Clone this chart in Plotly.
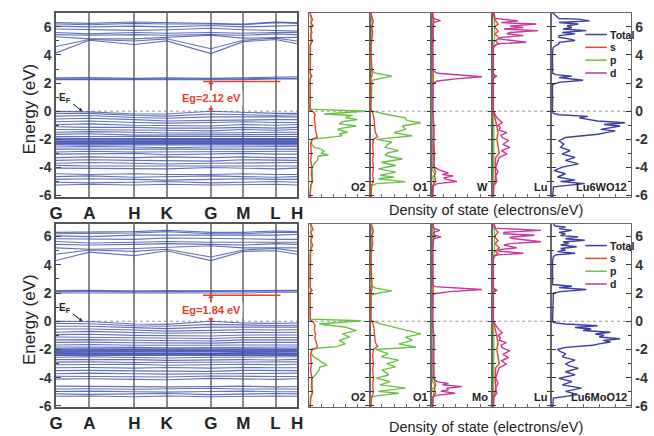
import plotly.graph_objects as go

W, H = 654, 436
FONT = "Liberation Sans, Arial, sans-serif"

# ---------------- band structure data ----------------
KPATH = [0, 34, 80, 113, 158, 191, 224, 246]
KLABELS = ["G", "A", "H", "K", "G", "M", "L", "H"]

CB_TOP = [
    [4.15, 5.05, 4.75, 5.0, 4.1, 4.95, 5.1, 4.8],
    [4.6, 5.1, 5.0, 5.15, 4.45, 5.05, 5.2, 5.0],
    [5.3, 5.15, 5.15, 5.25, 5.4, 5.2, 5.25, 5.25],
    [5.45, 5.4, 5.45, 5.4, 5.45, 5.4, 5.5, 5.45],
    [5.6, 5.5, 5.6, 5.55, 5.6, 5.55, 5.6, 5.6],
    [5.85, 5.8, 5.75, 5.8, 5.9, 5.8, 5.75, 5.7],
    [6.05, 6.0, 6.05, 6.0, 6.1, 6.0, 6.05, 6.1],
    [6.2, 6.15, 6.25, 6.2, 6.2, 6.15, 6.3, 6.25],
    [6.3, 6.25, 6.35, 6.3, 6.25, 6.2, 6.35, 6.3],
]
FLAT_TOP = [
    [2.3, 2.3, 2.28, 2.3, 2.28, 2.3, 2.35, 2.35],
    [2.38, 2.4, 2.35, 2.38, 2.35, 2.38, 2.42, 2.45],
    [2.25, 2.25, 2.22, 2.25, 2.2, 2.24, 2.3, 2.3],
]
VB_TOP = [
    [0.0, -0.05, -0.2, -0.2, 0.0, -0.1, -0.15, -0.15],
    [-0.15, -0.15, -0.3, -0.35, -0.2, -0.25, -0.3, -0.25],
    [-0.35, -0.3, -0.45, -0.5, -0.4, -0.4, -0.45, -0.4],
    [-0.55, -0.5, -0.6, -0.7, -0.65, -0.6, -0.6, -0.6],
    [-0.75, -0.7, -0.8, -0.85, -0.8, -0.75, -0.8, -0.8],
    [-0.95, -0.9, -1.0, -1.0, -1.05, -0.95, -1.0, -0.95],
    [-1.1, -1.15, -1.15, -1.2, -1.2, -1.15, -1.2, -1.15],
    [-1.3, -1.3, -1.35, -1.35, -1.4, -1.3, -1.35, -1.3],
    [-1.5, -1.45, -1.5, -1.55, -1.55, -1.5, -1.5, -1.5],
    [-1.65, -1.6, -1.7, -1.7, -1.7, -1.65, -1.7, -1.65],
    [-1.8, -1.8, -1.85, -1.85, -1.85, -1.8, -1.85, -1.8],
    [-1.9, -1.95, -1.95, -1.95, -1.95, -1.95, -1.95, -1.95],
    [-1.98, -2.0, -2.0, -2.0, -2.0, -1.98, -2.0, -2.0],
    [-2.0, -2.05, -2.05, -2.05, -2.05, -2.0, -2.05, -2.05],
    [-2.1, -2.1, -2.15, -2.1, -2.1, -2.1, -2.1, -2.1],
    [-2.15, -2.15, -2.18, -2.17, -2.17, -2.15, -2.15, -2.15],
    [-2.2, -2.2, -2.2, -2.2, -2.25, -2.2, -2.2, -2.2],
    [-2.25, -2.25, -2.27, -2.25, -2.27, -2.25, -2.25, -2.25],
    [-2.3, -2.3, -2.3, -2.3, -2.3, -2.3, -2.3, -2.3],
    [-2.35, -2.35, -2.35, -2.37, -2.35, -2.35, -2.37, -2.35],
    [-2.4, -2.4, -2.45, -2.4, -2.4, -2.4, -2.4, -2.4],
    [-2.55, -2.5, -2.55, -2.6, -2.55, -2.55, -2.55, -2.5],
    [-2.7, -2.7, -2.7, -2.75, -2.7, -2.7, -2.75, -2.7],
    [-2.9, -2.85, -2.9, -2.9, -2.85, -2.9, -2.9, -2.85],
    [-3.05, -3.05, -3.0, -3.1, -3.05, -3.0, -3.05, -3.05],
    [-3.3, -3.25, -3.3, -3.25, -3.3, -3.25, -3.3, -3.3],
    [-3.5, -3.45, -3.5, -3.5, -3.55, -3.45, -3.5, -3.5],
    [-3.7, -3.65, -3.7, -3.75, -3.7, -3.7, -3.7, -3.65],
    [-3.85, -3.9, -3.9, -3.9, -3.85, -3.9, -3.9, -3.9],
    [-4.05, -4.05, -4.1, -4.1, -4.0, -4.05, -4.1, -4.05],
    [-4.45, -4.5, -4.45, -4.5, -4.5, -4.45, -4.5, -4.5],
    [-4.65, -4.6, -4.7, -4.65, -4.6, -4.65, -4.7, -4.65],
    [-4.85, -4.8, -4.85, -4.9, -4.85, -4.8, -4.85, -4.85],
    [-5.05, -5.1, -5.05, -5.0, -5.1, -5.05, -5.0, -5.05],
    [-5.25, -5.2, -5.25, -5.2, -5.25, -5.2, -5.2, -5.25],
]

CB_BOT = [
    [4.3, 4.9, 4.65, 5.0, 4.3, 4.95, 5.0, 4.75],
    [4.75, 5.05, 4.95, 5.1, 4.55, 5.05, 5.15, 4.95],
    [5.2, 5.1, 5.15, 5.25, 5.35, 5.2, 5.2, 5.2],
    [5.45, 5.4, 5.45, 5.5, 5.45, 5.4, 5.5, 5.45],
    [5.65, 5.55, 5.6, 5.65, 5.6, 5.6, 5.65, 5.6],
    [5.85, 5.85, 5.8, 5.9, 5.9, 5.85, 5.8, 5.8],
    [6.05, 6.0, 6.1, 6.1, 6.1, 6.05, 6.1, 6.15],
    [6.2, 6.2, 6.25, 6.35, 6.2, 6.2, 6.3, 6.3],
    [6.3, 6.3, 6.35, 6.45, 6.3, 6.3, 6.4, 6.35],
]
FLAT_BOT = [
    [2.0, 2.0, 1.98, 2.0, 1.98, 2.0, 2.05, 2.05],
    [2.1, 2.12, 2.08, 2.1, 2.08, 2.1, 2.15, 2.15],
    [2.18, 2.2, 2.15, 2.18, 2.15, 2.18, 2.22, 2.2],
]
VB_BOT = [
    [0.0, -0.02, -0.2, -0.22, 0.0, -0.12, -0.15, -0.12],
    [-0.15, -0.18, -0.32, -0.35, -0.22, -0.28, -0.3, -0.28],
    [-0.35, -0.35, -0.45, -0.52, -0.42, -0.42, -0.45, -0.42],
    [-0.55, -0.55, -0.62, -0.7, -0.65, -0.6, -0.62, -0.6],
    [-0.78, -0.72, -0.8, -0.85, -0.82, -0.78, -0.8, -0.78],
    [-0.95, -0.92, -1.0, -1.02, -1.05, -0.98, -1.0, -0.98],
    [-1.12, -1.15, -1.18, -1.2, -1.22, -1.15, -1.18, -1.15],
    [-1.32, -1.3, -1.35, -1.38, -1.4, -1.32, -1.35, -1.32],
    [-1.5, -1.48, -1.52, -1.55, -1.55, -1.5, -1.52, -1.5],
    [-1.68, -1.65, -1.7, -1.72, -1.7, -1.68, -1.7, -1.68],
    [-1.82, -1.82, -1.85, -1.88, -1.85, -1.82, -1.85, -1.82],
    [-1.95, -1.95, -1.97, -1.98, -1.97, -1.95, -1.97, -1.95],
    [-1.99, -2.0, -2.02, -2.02, -2.02, -1.99, -2.0, -2.0],
    [-2.05, -2.05, -2.08, -2.08, -2.07, -2.05, -2.07, -2.05],
    [-2.1, -2.1, -2.12, -2.12, -2.1, -2.1, -2.1, -2.1],
    [-2.15, -2.15, -2.17, -2.15, -2.15, -2.15, -2.15, -2.15],
    [-2.22, -2.25, -2.25, -2.25, -2.27, -2.22, -2.25, -2.25],
    [-2.28, -2.28, -2.3, -2.3, -2.3, -2.28, -2.3, -2.28],
    [-2.32, -2.33, -2.33, -2.33, -2.33, -2.32, -2.33, -2.33],
    [-2.38, -2.38, -2.4, -2.4, -2.38, -2.38, -2.4, -2.38],
    [-2.42, -2.42, -2.45, -2.43, -2.42, -2.42, -2.42, -2.42],
    [-2.55, -2.52, -2.57, -2.6, -2.55, -2.55, -2.57, -2.52],
    [-2.72, -2.7, -2.72, -2.77, -2.72, -2.72, -2.75, -2.7],
    [-2.9, -2.88, -2.92, -2.92, -2.88, -2.9, -2.92, -2.88],
    [-3.08, -3.05, -3.05, -3.12, -3.08, -3.05, -3.08, -3.05],
    [-3.3, -3.28, -3.32, -3.28, -3.32, -3.28, -3.3, -3.3],
    [-3.5, -3.48, -3.52, -3.52, -3.55, -3.48, -3.52, -3.5],
    [-3.72, -3.68, -3.72, -3.75, -3.72, -3.7, -3.72, -3.68],
    [-3.9, -3.92, -3.92, -3.95, -3.88, -3.92, -3.92, -3.92],
    [-4.1, -4.08, -4.12, -4.15, -4.05, -4.1, -4.12, -4.08],
    [-4.6, -4.62, -4.6, -4.65, -4.62, -4.6, -4.65, -4.62],
    [-4.8, -4.78, -4.82, -4.8, -4.75, -4.8, -4.82, -4.8],
    [-4.98, -4.95, -5.0, -5.02, -4.98, -4.95, -5.0, -5.0],
    [-5.15, -5.18, -5.15, -5.12, -5.2, -5.15, -5.12, -5.15],
    [-5.32, -5.3, -5.35, -5.3, -5.35, -5.3, -5.3, -5.32],
]

EG_TOP, EG_BOT = 2.12, 1.84

# ---------------- DOS data: (energy eV, DOS relative) ----------------
O2_S_TOP = [(7, .02), (6.5, .06), (6.3, .03), (6.1, .07), (5.9, .03), (5.6, .05), (5.3, .03), (5.0, .06), (4.7, .02), (2.7, .02), (2.5, .05), (2.3, .02), (0.1, .02), (0.0, .06), (-0.2, .1), (-0.5, .09), (-0.8, .1), (-1.1, .1), (-1.4, .11), (-1.7, .13), (-1.85, .14), (-2.0, .05), (-2.3, .03), (-3.0, .04), (-3.5, .03), (-4.0, .05), (-4.5, .04), (-5.0, .06), (-5.3, .03), (-6.2, .02)]
O2_P_TOP = [(7, .02), (6.4, .04), (5.0, .03), (0.15, .02), (0.0, .94), (-0.1, .55), (-0.2, .25), (-0.3, .72), (-0.45, .6), (-0.6, .8), (-0.75, .55), (-0.9, .5), (-1.05, .78), (-1.2, .55), (-1.3, .47), (-1.5, .64), (-1.6, .5), (-1.75, .55), (-1.9, .3), (-2.0, .05), (-2.3, .04), (-2.55, .08), (-2.7, .2), (-2.85, .25), (-3.0, .2), (-3.1, .32), (-3.2, .15), (-3.5, .14), (-3.75, .08), (-4.1, .05), (-4.5, .06), (-5.0, .05), (-5.3, .03), (-6.2, .02)]
O1_S_TOP = [(7, .02), (6.4, .06), (6.0, .03), (5.6, .05), (5.0, .03), (4.5, .02), (2.6, .04), (2.3, .02), (0.1, .02), (-0.1, .05), (-0.5, .07), (-1.0, .08), (-1.5, .09), (-1.8, .13), (-2.0, .06), (-2.5, .05), (-3.0, .06), (-3.5, .05), (-4.0, .06), (-4.5, .05), (-5.0, .06), (-5.3, .03), (-6.2, .02)]
O1_P_TOP = [(7, .02), (6.3, .04), (5.0, .03), (2.9, .02), (2.7, .1), (2.5, .36), (2.35, .2), (2.2, .04), (0.1, .02), (0.0, .05), (-0.25, .3), (-0.47, .58), (-0.65, .6), (-0.82, .83), (-1.05, .53), (-1.29, .58), (-1.52, .39), (-1.75, .69), (-2.0, .11), (-2.2, .36), (-2.4, .28), (-2.57, .25), (-2.8, .47), (-2.95, .3), (-3.15, .25), (-3.4, .53), (-3.63, .19), (-3.86, .42), (-4.1, .14), (-4.33, .42), (-4.56, .17), (-4.68, .39), (-4.8, .14), (-5.03, .58), (-5.15, .11), (-5.3, .03), (-6.2, .02)]
M_S_TOP = [(7, .02), (6.4, .04), (5, .02), (2.5, .03), (0, .02), (-1, .04), (-2, .04), (-3, .05), (-4, .04), (-4.3, .07), (-4.6, .05), (-5.0, .07), (-5.3, .02), (-6.2, .02)]
M_P_TOP = [(7, .01), (6.4, .02), (0, .01), (-4.2, .02), (-4.5, .06), (-4.7, .02), (-5, .04), (-6.2, .01)]
M_D_TOP = [(7, .02), (6.6, .03), (6.45, .15), (6.3, .03), (5.5, .02), (5.0, .04), (4.8, .02), (2.9, .02), (2.7, .1), (2.45, .83), (2.3, .4), (2.15, .1), (2.0, .03), (0.1, .02), (-0.5, .03), (-1.5, .04), (-2.5, .03), (-3.5, .04), (-4.0, .05), (-4.2, .15), (-4.4, .28), (-4.5, .18), (-4.6, .36), (-4.75, .2), (-4.85, .25), (-5.0, .42), (-5.15, .1), (-5.3, .03), (-6.2, .02)]
LU_S_TOP = [(7, .02), (6.5, .05), (6.2, .1), (6.0, .04), (5.7, .1), (5.5, .05), (5.2, .12), (5.0, .06), (4.8, .1), (4.6, .02), (2.6, .02), (2.5, .08), (2.35, .02), (0, .02), (-0.5, .05), (-1.0, .07), (-1.5, .1), (-2.0, .08), (-2.5, .1), (-3.0, .12), (-3.3, .06), (-4.0, .05), (-4.5, .06), (-5.0, .05), (-5.3, .02), (-6.2, .02)]
LU_P_TOP = [(7, .02), (6.3, .04), (5.0, .04), (4.6, .02), (0, .02), (-2, .03), (-6.2, .02)]
LU_D_TOP = [(7, .03), (6.6, .05), (6.43, .44), (6.3, .15), (6.2, .75), (6.05, .3), (5.96, .53), (5.85, .2), (5.73, .78), (5.6, .3), (5.5, .25), (5.38, .53), (5.25, .15), (5.15, .11), (4.91, .58), (4.8, .1), (4.72, .06), (4.5, .02), (2.7, .02), (2.5, .05), (2.3, .02), (0.0, .02), (-0.2, .05), (-0.47, .08), (-0.82, .17), (-1.0, .1), (-1.17, .14), (-1.35, .12), (-1.52, .25), (-1.7, .15), (-1.87, .17), (-2.1, .28), (-2.35, .18), (-2.57, .3), (-2.8, .16), (-3.04, .25), (-3.28, .12), (-3.5, .1), (-3.75, .08), (-4.0, .06), (-4.3, .1), (-4.6, .06), (-5.0, .08), (-5.3, .03), (-6.2, .02)]
TOT_TOP = [(7, .02), (6.6, .1), (6.55, .34), (6.43, .48), (6.31, .1), (6.2, .34), (6.08, .2), (5.96, .26), (5.85, .15), (5.73, .44), (5.6, .14), (5.5, .3), (5.38, .1), (5.26, .1), (5.15, .22), (5.03, .3), (4.9, .1), (4.79, .1), (4.56, .03), (4.3, .02), (2.7, .02), (2.6, .06), (2.5, .26), (2.4, .1), (2.2, .4), (2.05, .1), (1.9, .02), (0.0, .02), (-0.15, .03), (-0.25, .1), (-0.37, .46), (-0.47, .35), (-0.7, .58), (-0.82, .92), (-0.94, .66), (-1.05, .86), (-1.29, .62), (-1.4, .8), (-1.64, .58), (-1.87, .18), (-2.1, .1), (-2.34, .16), (-2.57, .12), (-2.8, .24), (-3.04, .14), (-3.28, .3), (-3.5, .18), (-3.75, .34), (-3.98, .14), (-4.22, .04), (-4.45, .18), (-4.68, .08), (-4.9, .3), (-5.0, .12), (-5.15, .42), (-5.38, .03), (-6.2, .02)]

O2_S_BOT = [(7, .02), (6.5, .07), (6.3, .03), (6.0, .06), (5.7, .03), (5.4, .06), (5.0, .03), (4.7, .02), (2.4, .02), (2.2, .05), (2.0, .02), (0.1, .02), (0.0, .06), (-0.3, .1), (-0.6, .09), (-0.9, .11), (-1.2, .1), (-1.5, .12), (-1.75, .14), (-1.9, .13), (-2.0, .05), (-2.4, .03), (-3.0, .04), (-3.5, .03), (-4.0, .05), (-4.6, .04), (-5.1, .06), (-5.4, .03), (-6.2, .02)]
O2_P_BOT = [(7, .02), (6.4, .04), (5.0, .03), (0.15, .02), (0.03, .86), (-0.1, .5), (-0.2, .17), (-0.43, .61), (-0.66, .78), (-0.9, .55), (-1.13, .67), (-1.36, .5), (-1.6, .6), (-1.8, .45), (-1.95, .05), (-2.3, .04), (-2.53, .08), (-2.7, .15), (-2.88, .2), (-3.1, .3), (-3.25, .18), (-3.45, .17), (-3.8, .1), (-4.1, .05), (-4.6, .06), (-5.1, .05), (-5.4, .03), (-6.2, .02)]
O1_S_BOT = [(7, .02), (6.4, .06), (6.0, .03), (5.6, .05), (5.0, .03), (4.5, .02), (2.3, .04), (2.0, .02), (0.1, .02), (-0.1, .05), (-0.5, .07), (-1.0, .08), (-1.5, .09), (-1.8, .13), (-2.0, .06), (-2.5, .05), (-3.0, .06), (-3.5, .05), (-4.0, .06), (-4.6, .05), (-5.1, .06), (-5.4, .03), (-6.2, .02)]
O1_P_BOT = [(7, .02), (6.3, .04), (5.0, .03), (2.5, .02), (2.35, .1), (2.15, .36), (2.0, .15), (1.85, .03), (0.1, .02), (0.0, .05), (-0.2, .19), (-0.55, .53), (-0.9, .83), (-1.13, .58), (-1.36, .69), (-1.6, .47), (-1.83, .75), (-2.0, .1), (-2.3, .3), (-2.53, .19), (-2.76, .47), (-3.0, .28), (-3.23, .42), (-3.45, .2), (-3.8, .31), (-4.04, .11), (-4.28, .33), (-4.51, .17), (-4.74, .58), (-4.97, .14), (-5.1, .47), (-5.32, .06), (-5.45, .02), (-6.2, .02)]
M_S_BOT = [(7, .02), (6.4, .05), (6.0, .04), (5, .02), (2.2, .03), (0, .02), (-1, .04), (-2, .04), (-3, .05), (-4, .04), (-4.5, .07), (-4.8, .05), (-5.1, .07), (-5.4, .02), (-6.2, .02)]
M_P_BOT = [(7, .01), (6.4, .02), (0, .01), (-4.3, .02), (-4.6, .06), (-4.8, .02), (-5.1, .04), (-6.2, .01)]
M_D_BOT = [(7, .02), (6.6, .03), (6.44, .14), (6.3, .04), (6.1, .05), (5.98, .16), (5.85, .04), (5.5, .02), (2.6, .02), (2.45, .06), (2.25, .83), (2.1, .3), (1.95, .05), (1.85, .02), (0.1, .02), (-0.5, .03), (-1.5, .04), (-2.5, .03), (-3.5, .04), (-4.1, .04), (-4.3, .1), (-4.4, .28), (-4.5, .18), (-4.63, .5), (-4.75, .25), (-4.86, .28), (-4.95, .15), (-5.1, .39), (-5.25, .08), (-5.35, .03), (-6.2, .02)]
LU_S_BOT = [(7, .02), (6.5, .06), (6.3, .1), (6.0, .04), (5.7, .1), (5.5, .05), (5.2, .12), (4.95, .06), (4.8, .1), (4.6, .02), (2.35, .02), (2.2, .08), (2.05, .02), (0, .02), (-0.5, .05), (-1.0, .07), (-1.5, .1), (-2.0, .08), (-2.5, .1), (-3.0, .12), (-3.3, .06), (-4.0, .05), (-4.6, .06), (-5.1, .05), (-5.4, .02), (-6.2, .02)]
LU_P_BOT = [(7, .02), (6.3, .04), (5.0, .04), (4.6, .02), (0, .02), (-2, .03), (-6.2, .02)]
LU_D_BOT = [(7, .03), (6.6, .05), (6.44, .83), (6.3, .2), (6.2, .2), (6.09, .72), (5.95, .3), (5.86, .35), (5.63, .83), (5.5, .3), (5.4, .2), (5.2, .42), (5.08, .12), (4.98, .1), (4.82, .53), (4.7, .1), (4.62, .04), (4.4, .02), (2.4, .02), (2.2, .05), (2.0, .02), (0.0, .02), (-0.2, .05), (-0.47, .09), (-0.82, .17), (-1.0, .1), (-1.17, .14), (-1.35, .12), (-1.52, .24), (-1.7, .15), (-1.87, .17), (-2.1, .3), (-2.35, .18), (-2.57, .28), (-2.8, .16), (-3.04, .24), (-3.28, .12), (-3.5, .1), (-3.75, .08), (-4.0, .06), (-4.4, .1), (-4.7, .06), (-5.1, .08), (-5.4, .03), (-6.2, .02)]
TOT_BOT = [(7, .02), (6.75, .05), (6.68, .18), (6.56, .1), (6.44, .26), (6.3, .1), (6.2, .18), (6.08, .12), (5.98, .34), (5.85, .18), (5.74, .42), (5.62, .15), (5.51, .22), (5.4, .12), (5.28, .32), (5.15, .12), (5.05, .18), (4.93, .08), (4.82, .3), (4.7, .06), (4.58, .03), (4.3, .02), (2.6, .02), (2.48, .26), (2.38, .1), (2.25, .44), (2.1, .12), (2.0, .03), (0.0, .02), (-0.1, .03), (-0.2, .18), (-0.32, .58), (-0.44, .3), (-0.55, .5), (-0.66, .4), (-0.78, .74), (-0.9, .55), (-1.0, .66), (-1.12, .6), (-1.24, .86), (-1.36, .65), (-1.47, .74), (-1.6, .6), (-1.7, .52), (-1.85, .18), (-2.0, .08), (-2.15, .12), (-2.3, .18), (-2.53, .14), (-2.76, .3), (-3.0, .18), (-3.15, .22), (-3.34, .34), (-3.58, .18), (-3.8, .3), (-4.04, .1), (-4.28, .26), (-4.51, .14), (-4.74, .38), (-4.97, .18), (-5.2, .34), (-5.44, .03), (-6.2, .02)]

ROWS = [
    dict(vb=VB_TOP, cb=CB_TOP, flat=FLAT_TOP, eg=EG_TOP, metal="W", compound="Lu6WO12",
         dos=[[(O2_P_TOP, "p"), (O2_S_TOP, "s")], [(O1_P_TOP, "p"), (O1_S_TOP, "s")],
              [(M_P_TOP, "p"), (M_S_TOP, "s"), (M_D_TOP, "d")],
              [(LU_P_TOP, "p"), (LU_S_TOP, "s"), (LU_D_TOP, "d")], [(TOT_TOP, "t")]]),
    dict(vb=VB_BOT, cb=CB_BOT, flat=FLAT_BOT, eg=EG_BOT, metal="Mo", compound="Lu6MoO12",
         dos=[[(O2_P_BOT, "p"), (O2_S_BOT, "s")], [(O1_P_BOT, "p"), (O1_S_BOT, "s")],
              [(M_P_BOT, "p"), (M_S_BOT, "s"), (M_D_BOT, "d")],
              [(LU_P_BOT, "p"), (LU_S_BOT, "s"), (LU_D_BOT, "d")], [(TOT_BOT, "t")]]),
]

# ---------------- styling / layout ----------------
COLORS = dict(t="#3b3fa0", s="#e8452a", p="#6cc048", d="#c8379b")
BAND_COLOR = "rgba(60,78,175,0.8)"
RED = "#e8402a"
ROW_PX = [dict(top=13, bottom=200, yr=[-6.12, 7.0]), dict(top=227, bottom=413, yr=[-6.1, 6.9])]
COL_PX = [(50, 296), (308, 370), (370, 433), (433, 495), (495, 555), (555, 637)]
SPECIES_LABELS = ["O2", "O1", None, "Lu", None]

fig = go.Figure()
layout = dict(width=W, height=H, margin=dict(l=0, r=0, t=0, b=0),
              paper_bgcolor="white", plot_bgcolor="white", showlegend=False,
              font=dict(family=FONT, color="#222"))
shapes, annotations = [], []


def px_x(px):
    return px / W


def px_y(px):
    return 1 - px / H


for r, row in enumerate(ROWS):
    rp = ROW_PX[r]
    ydom = [px_y(rp["bottom"]), px_y(rp["top"])]
    for c, (x0, x1) in enumerate(COL_PX):
        n = r * 6 + c + 1
        xname = "xaxis" if n == 1 else f"xaxis{n}"
        yname = "yaxis" if n == 1 else f"yaxis{n}"
        xr = "x" if n == 1 else f"x{n}"
        yr = "y" if n == 1 else f"y{n}"
        xdom = [px_x(x0), px_x(x1)]
        if c == 0:
            layout[xname] = dict(domain=xdom, anchor=yr, range=[KPATH[0], KPATH[-1]],
                                 tickmode="array", tickvals=KPATH, ticktext=KLABELS,
                                 showgrid=True, gridcolor="#8a8a8a", gridwidth=1.5,
                                 showline=True, mirror=True, linecolor="#555", linewidth=1.5,
                                 ticks="", zeroline=False,
                                 tickfont=dict(size=17, color="#222", weight="bold"))
            layout[yname] = dict(domain=ydom, anchor=xr, range=rp["yr"],
                                 tickmode="array", tickvals=[-6, -4, -2, 0, 2, 4, 6],
                                 ticktext=["-6", "-4", "-2", "0", "2", "4", "6"],
                                 ticks="inside", ticklen=5, tickcolor="#444", tickwidth=1.2,
                                 minor=dict(tickvals=[-5, -3, -1, 1, 3, 5], ticks="inside",
                                            ticklen=3, tickcolor="#444"),
                                 showgrid=False, zeroline=False, showline=True, mirror=True,
                                 linecolor="#555", linewidth=1.5,
                                 tickfont=dict(size=14, color="#333", weight="bold"))
            # band lines
            for group in (row["vb"], row["flat"], row["cb"]):
                xs, ys = [], []
                for b in group:
                    xs += KPATH + [None]
                    ys += list(b) + [None]
                fig.add_trace(go.Scatter(x=xs, y=ys, mode="lines", xaxis=xr, yaxis=yr,
                                         line=dict(color=BAND_COLOR, width=1.1),
                                         hoverinfo="skip"))
            # Eg marker: red CBM line, dotted double arrow, label
            shapes.append(dict(type="line", xref=xr, yref=yr, x0=150, x1=229,
                               y0=row["eg"], y1=row["eg"], line=dict(color=RED, width=1.5)))
            shapes.append(dict(type="line", xref=xr, yref=yr, x0=KPATH[4], x1=KPATH[4],
                               y0=0, y1=row["eg"], line=dict(color=RED, width=1, dash="dot")))
            fig.add_trace(go.Scatter(x=[KPATH[4], KPATH[4]], y=[row["eg"] - 0.12, 0.12],
                                     mode="markers", xaxis=xr, yaxis=yr, hoverinfo="skip",
                                     marker=dict(symbol=["triangle-up", "triangle-down"],
                                                 size=5, color=RED)))
            annotations.append(dict(xref=xr, yref=yr, x=KPATH[4] + 1,
                                    y=row["eg"] * 0.45, text=f"Eg={row['eg']:.2f} eV",
                                    showarrow=False, bgcolor="white",
                                    font=dict(size=11, color=RED, weight="bold")))
            annotations.append(dict(xref=xr, yref=yr, x=27, y=0, text="E<sub>F</sub>",
                                    showarrow=True, ax=-17, ay=-13, arrowhead=2,
                                    arrowsize=0.7, arrowwidth=1, arrowcolor="#222",
                                    font=dict(size=10, color="#222", weight="bold")))
        else:
            last = c == 5
            layout[xname] = dict(domain=xdom, anchor=yr, range=[0, 1],
                                 showline=True, mirror=True, linecolor="#666", linewidth=1.3,
                                 showgrid=False, zeroline=False, ticks="inside",
                                 tickmode="array", tickvals=[0.2, 0.4, 0.6, 0.8],
                                 ticklen=3, tickcolor="#666", showticklabels=False)
            ya = dict(domain=ydom, anchor=xr, range=rp["yr"], showgrid=False, zeroline=False,
                      showline=True, mirror="ticks", linecolor="#666", linewidth=1.3,
                      ticks="inside", tickcolor="#333", tickwidth=1.2)
            if last:
                ya.update(side="right", tickmode="array", tickvals=[-6, -4, -2, 0, 2, 4, 6],
                          ticktext=["-6", "-4", "-2", "0", "2", "4", "6"], ticklen=5,
                          minor=dict(tickvals=[-5, -3, -1, 1, 3, 5], ticks="inside",
                                     ticklen=3, tickcolor="#333"),
                          showticklabels=True,
                          tickfont=dict(size=14, color="#333", weight="bold"))
            else:
                ya.update(tickmode="array", tickvals=list(range(-6, 7)), ticklen=4,
                          showticklabels=False)
            layout[yname] = ya
            for pairs, kind in row["dos"][c - 1]:
                fig.add_trace(go.Scatter(x=[v for e, v in pairs], y=[e for e, v in pairs],
                                         mode="lines", xaxis=xr, yaxis=yr,
                                         line=dict(color=COLORS[kind], width=1.4),
                                         hoverinfo="skip"))
            label = SPECIES_LABELS[c - 1]
            if c == 3:
                label = row["metal"]
            if c == 5:
                label = row["compound"]
            annotations.append(dict(xref=f"{xr} domain", yref=f"{yr} domain", x=0.97, y=0.01,
                                    xanchor="right", yanchor="bottom", text=label,
                                    showarrow=False,
                                    font=dict(size=11, color="#222", weight="bold")))
        # Fermi level dotted line
        shapes.append(dict(type="line", xref=f"{xr} domain", yref=yr, x0=0, x1=1, y0=0, y1=0,
                           line=dict(color="#999", width=1, dash="dot"), layer="below"))

    # Manual legend in total-DOS panel
    leg_rows = [("Total", "t"), ("s", "s"), ("p", "p"), ("d", "d")]
    base = rp["top"]
    for i, (name, key) in enumerate(leg_rows):
        yy = base + 22 + i * 13
        shapes.append(dict(type="line", xref="paper", yref="paper", x0=px_x(590), x1=px_x(612),
                           y0=px_y(yy), y1=px_y(yy), line=dict(color=COLORS[key], width=1.5)))
        annotations.append(dict(xref="paper", yref="paper", x=px_x(613), y=px_y(yy),
                                xanchor="left", yanchor="middle", text=name, showarrow=False,
                                font=dict(size=10.5, color="#222", weight="bold")))

    # axis titles
    annotations.append(dict(xref="paper", yref="paper", x=px_x(23), xanchor="center",
                            y=px_y((rp["top"] + rp["bottom"]) / 2 + 4), yanchor="middle",
                            text="Energy (eV)", textangle=-90, showarrow=False,
                            font=dict(size=17, color="#222")))
    annotations.append(dict(xref="paper", yref="paper", x=px_x(489), xanchor="center",
                            y=px_y(rp["bottom"] + 13 + (7 if r == 1 else 0)), yanchor="middle",
                            text="Density of state (electrons/eV)", showarrow=False,
                            font=dict(size=14.5, color="#222")))

layout["shapes"] = shapes
layout["annotations"] = annotations
fig.update_layout(**layout)
fig.write_html("out.html")
